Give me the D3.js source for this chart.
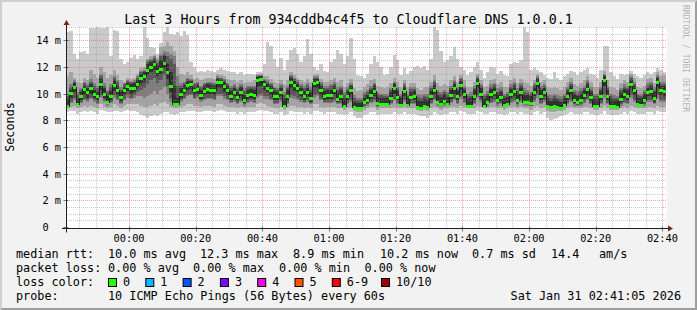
<!DOCTYPE html>
<html>
<head>
<meta charset="utf-8">
<script src="https://cdn.jsdelivr.net/npm/d3@7"></script>
<style>
body { margin: 0; background: #f2f2f2; }
svg { display: block; font-family: "DejaVu Sans Mono", monospace; }
text { white-space: pre; }
</style>
</head>
<body>
<div id="chart"></div>
<script>
// one value per minute, 180 samples (23:41 -> 02:41), values in ms
var median = [
  9.1, 10.05, 10.5, 9.25, 9.8, 10.35, 10.1, 10.4, 10.0, 9.8,
  10.75, 10.0, 9.4, 9.8, 10.65, 10.3, 9.75, 10.25, 10.55, 10.4,
  10.45, 10.75, 11.15, 11.3, 11.8, 12.0, 12.2, 11.7, 11.85, 12.3,
  11.6, 10.6, 9.25, 9.2, 10.0, 10.3, 10.65, 10.7, 10.25, 10.35,
  9.9, 10.2, 10.35, 10.3, 10.25, 10.85, 10.85, 10.55, 10.25, 9.85,
  10.1, 9.75, 10.15, 9.55, 9.9, 10.0, 9.9, 11.05, 11.1, 10.7,
  10.45, 10.25, 9.8, 9.8, 10.15, 9.05, 9.85, 10.85, 10.65, 10.45,
  10.15, 9.85, 10.1, 9.7, 10.8, 10.85, 10.25, 9.85, 9.9, 9.9,
  10.3, 9.6, 9.85, 9.1, 9.8, 10.25, 9.0, 8.9, 8.9, 9.35,
  9.5, 9.9, 10.2, 9.3, 9.25, 9.2, 9.2, 9.65, 10.4, 9.75,
  9.15, 10.2, 9.15, 9.75, 9.8, 9.0, 8.95, 9.1, 9.0, 9.8,
  10.3, 9.4, 9.25, 9.45, 9.25, 9.9, 10.4, 9.8, 10.65, 9.95,
  9.1, 9.1, 9.85, 10.8, 10.0, 9.1, 9.35, 9.95, 10.15, 9.5,
  9.75, 9.15, 9.2, 9.95, 10.2, 9.55, 10.1, 9.35, 9.35, 9.3,
  10.1, 10.8, 9.85, 10.1, 9.1, 9.0, 9.1, 9.0, 8.95, 9.15,
  9.8, 10.25, 9.5, 9.35, 9.55, 9.9, 10.35, 9.75, 9.1, 9.1,
  9.8, 11.0, 9.85, 9.1, 9.1, 9.0, 9.6, 9.95, 9.85, 10.75,
  10.25, 9.2, 9.15, 9.5, 10.1, 10.2, 9.7, 10.85, 10.25, 10.2
];

// the 10 sorted pings of every sample, lowest (ping1) to highest (ping10)
var ping1 = [
  8.6, 8.7, 8.7, 8.5, 8.6, 8.7, 8.6, 8.7, 8.6, 8.5,
  8.8, 8.7, 8.6, 8.6, 8.7, 8.7, 8.6, 8.7, 8.8, 8.7,
  8.7, 8.6, 8.4, 8.3, 8.2, 8.3, 8.4, 8.3, 8.5, 8.6,
  8.6, 8.5, 8.4, 8.5, 8.6, 8.6, 8.7, 8.7, 8.7, 8.6,
  8.6, 8.7, 8.7, 8.7, 8.6, 8.7, 8.8, 8.7, 8.6, 8.6,
  8.6, 8.5, 8.6, 8.5, 8.6, 8.6, 8.6, 8.7, 8.8, 8.7,
  8.7, 8.6, 8.5, 8.5, 8.6, 8.4, 8.5, 8.7, 8.6, 8.6,
  8.6, 8.5, 8.6, 8.5, 8.7, 8.7, 8.6, 8.5, 8.6, 8.6,
  8.6, 8.5, 8.5, 8.4, 8.5, 8.6, 8.3, 8.2, 8.2, 8.4,
  8.5, 8.6, 8.6, 8.4, 8.5, 8.5, 8.5, 8.5, 8.6, 8.5,
  8.5, 8.6, 8.5, 8.5, 8.5, 8.4, 8.3, 8.3, 8.2, 8.4,
  8.6, 8.5, 8.4, 8.5, 8.5, 8.6, 8.6, 8.5, 8.7, 8.6,
  8.5, 8.5, 8.5, 8.7, 8.6, 8.5, 8.5, 8.6, 8.6, 8.5,
  8.5, 8.4, 8.5, 8.6, 8.6, 8.5, 8.6, 8.5, 8.5, 8.4,
  8.6, 8.7, 8.5, 8.6, 8.2, 8.0, 8.1, 8.2, 8.3, 8.4,
  8.5, 8.6, 8.5, 8.5, 8.5, 8.6, 8.6, 8.5, 8.4, 8.4,
  8.5, 8.7, 8.5, 8.4, 8.4, 8.4, 8.5, 8.6, 8.5, 8.7,
  8.6, 8.5, 8.5, 8.5, 8.6, 8.6, 8.5, 8.7, 8.6, 8.6
];
var ping2 = [
  8.9, 9.0, 9.1, 8.9, 9.0, 9.1, 9.0, 9.1, 9.0, 8.9,
  9.2, 9.0, 8.9, 9.0, 9.2, 9.1, 8.9, 9.1, 9.2, 9.2,
  9.2, 9.2, 9.1, 9.0, 9.0, 9.1, 9.2, 9.1, 9.3, 9.4,
  9.2, 9.0, 8.9, 8.9, 9.0, 9.1, 9.2, 9.2, 9.1, 9.1,
  9.0, 9.1, 9.1, 9.1, 9.0, 9.2, 9.2, 9.1, 9.0, 9.0,
  9.0, 8.9, 9.0, 8.9, 9.0, 9.0, 9.0, 9.2, 9.3, 9.2,
  9.1, 9.0, 8.9, 8.9, 9.0, 8.8, 8.9, 9.1, 9.1, 9.0,
  9.0, 8.9, 9.0, 8.9, 9.2, 9.2, 9.0, 8.9, 9.0, 9.0,
  9.0, 8.9, 8.9, 8.8, 8.9, 9.0, 8.7, 8.6, 8.6, 8.8,
  8.9, 9.0, 9.0, 8.8, 8.9, 8.9, 8.9, 8.9, 9.0, 8.9,
  8.9, 9.0, 8.9, 8.9, 8.9, 8.8, 8.7, 8.8, 8.7, 8.9,
  9.0, 8.9, 8.8, 8.9, 8.9, 9.0, 9.0, 8.9, 9.1, 9.0,
  8.9, 8.9, 8.9, 9.1, 9.0, 8.9, 8.9, 9.0, 9.0, 8.9,
  8.9, 8.8, 8.9, 9.0, 9.0, 8.9, 9.0, 8.9, 8.9, 8.8,
  9.0, 9.1, 8.9, 9.0, 8.7, 8.6, 8.6, 8.7, 8.7, 8.8,
  8.9, 9.0, 8.9, 8.9, 8.9, 9.0, 9.0, 8.9, 8.8, 8.8,
  8.9, 9.1, 8.9, 8.8, 8.8, 8.8, 8.9, 9.0, 8.9, 9.1,
  9.0, 8.9, 8.9, 8.9, 9.0, 9.0, 8.9, 9.1, 9.0, 9.0
];
var ping3 = [
  9.0, 9.3, 9.5, 9.1, 9.3, 9.5, 9.4, 9.6, 9.4, 9.2,
  9.7, 9.4, 9.1, 9.3, 9.7, 9.5, 9.2, 9.5, 9.7, 9.6,
  9.7, 9.8, 9.8, 9.7, 9.8, 10.0, 10.2, 10.0, 10.3, 10.5,
  10.0, 9.4, 9.1, 9.05, 9.4, 9.6, 9.8, 9.9, 9.6, 9.7,
  9.4, 9.5, 9.6, 9.6, 9.5, 9.8, 9.8, 9.6, 9.5, 9.3,
  9.4, 9.2, 9.4, 9.1, 9.3, 9.4, 9.3, 9.7, 9.8, 9.6,
  9.6, 9.5, 9.2, 9.2, 9.4, 8.95, 9.2, 9.7, 9.6, 9.5,
  9.4, 9.3, 9.4, 9.2, 9.7, 9.8, 9.5, 9.3, 9.3, 9.3,
  9.4, 9.2, 9.2, 8.95, 9.2, 9.4, 8.85, 8.75, 8.75, 9.0,
  9.1, 9.3, 9.4, 9.0, 9.05, 9.05, 9.05, 9.2, 9.5, 9.2,
  9.05, 9.4, 9.05, 9.2, 9.2, 8.9, 8.85, 8.95, 8.85, 9.2,
  9.5, 9.1, 9.0, 9.1, 9.05, 9.3, 9.5, 9.2, 9.6, 9.3,
  9.0, 9.0, 9.2, 9.7, 9.4, 9.0, 9.1, 9.3, 9.4, 9.1,
  9.2, 9.0, 9.05, 9.3, 9.4, 9.1, 9.4, 9.1, 9.1, 9.05,
  9.4, 9.7, 9.2, 9.4, 8.95, 8.85, 8.9, 8.85, 8.8, 9.0,
  9.2, 9.4, 9.1, 9.1, 9.1, 9.3, 9.5, 9.2, 8.95, 8.95,
  9.2, 9.7, 9.2, 8.95, 8.95, 8.9, 9.1, 9.3, 9.2, 9.7,
  9.4, 9.05, 9.0, 9.1, 9.4, 9.4, 9.2, 9.7, 9.4, 9.4
];
var ping4 = [
  9.05, 9.4, 9.7, 9.12, 9.4, 9.6, 9.5, 9.7, 9.5, 9.3,
  9.9, 9.5, 9.2, 9.4, 9.9, 9.6, 9.3, 9.6, 9.9, 9.7,
  9.9, 10.1, 10.3, 10.4, 10.7, 11.0, 11.2, 10.8, 11.0, 11.4,
  10.6, 9.7, 9.15, 9.1, 9.5, 9.7, 9.9, 10.0, 9.7, 9.8,
  9.5, 9.6, 9.7, 9.7, 9.6, 10.0, 10.0, 9.8, 9.6, 9.4,
  9.5, 9.3, 9.5, 9.2, 9.4, 9.5, 9.4, 9.9, 10.0, 9.8,
  9.8, 9.6, 9.3, 9.3, 9.5, 9.0, 9.3, 9.9, 9.8, 9.7,
  9.5, 9.4, 9.5, 9.3, 9.9, 10.0, 9.6, 9.4, 9.4, 9.4,
  9.5, 9.3, 9.3, 9.0, 9.3, 9.5, 8.9, 8.8, 8.8, 9.1,
  9.2, 9.4, 9.5, 9.1, 9.1, 9.1, 9.1, 9.3, 9.6, 9.3,
  9.08, 9.5, 9.08, 9.3, 9.3, 8.93, 8.88, 9.0, 8.9, 9.3,
  9.6, 9.2, 9.1, 9.2, 9.1, 9.4, 9.6, 9.3, 9.8, 9.4,
  9.03, 9.03, 9.3, 9.9, 9.5, 9.03, 9.2, 9.4, 9.5, 9.2,
  9.3, 9.05, 9.1, 9.4, 9.5, 9.2, 9.5, 9.2, 9.2, 9.1,
  9.5, 9.9, 9.3, 9.5, 9.0, 8.9, 8.95, 8.9, 8.85, 9.05,
  9.3, 9.5, 9.2, 9.15, 9.2, 9.4, 9.6, 9.3, 9.0, 9.0,
  9.3, 10.0, 9.3, 9.0, 9.0, 8.95, 9.2, 9.4, 9.3, 9.9,
  9.5, 9.1, 9.05, 9.2, 9.5, 9.5, 9.3, 9.9, 9.5, 9.5
];
var ping5 = [
  9.08, 9.7, 10.1, 9.2, 9.5, 9.9, 9.7, 10.0, 9.7, 9.5,
  10.3, 9.7, 9.3, 9.5, 10.2, 9.9, 9.45, 9.9, 10.2, 10.0,
  10.1, 10.4, 10.8, 10.9, 11.4, 11.6, 11.8, 11.3, 11.5, 11.9,
  11.1, 10.1, 9.2, 9.15, 9.7, 9.95, 10.3, 10.35, 9.9, 10.0,
  9.6, 9.9, 10.0, 9.95, 9.9, 10.4, 10.4, 10.1, 9.9, 9.55,
  9.8, 9.45, 9.85, 9.3, 9.6, 9.7, 9.6, 10.5, 10.6, 10.3,
  10.1, 9.9, 9.5, 9.5, 9.8, 9.02, 9.5, 10.4, 10.2, 10.1,
  9.8, 9.55, 9.8, 9.4, 10.4, 10.45, 9.9, 9.55, 9.6, 9.6,
  9.9, 9.4, 9.55, 9.05, 9.5, 9.9, 8.95, 8.85, 8.85, 9.2,
  9.3, 9.6, 9.8, 9.2, 9.15, 9.12, 9.12, 9.45, 10.0, 9.5,
  9.1, 9.8, 9.1, 9.5, 9.5, 8.96, 8.92, 9.05, 8.95, 9.5,
  9.95, 9.3, 9.15, 9.3, 9.15, 9.6, 10.0, 9.5, 10.3, 9.65,
  9.06, 9.06, 9.55, 10.4, 9.7, 9.06, 9.25, 9.65, 9.8, 9.35,
  9.45, 9.1, 9.15, 9.65, 9.85, 9.35, 9.8, 9.25, 9.25, 9.2,
  9.8, 10.4, 9.55, 9.8, 9.05, 8.95, 9.02, 8.95, 8.9, 9.1,
  9.5, 9.9, 9.3, 9.25, 9.35, 9.6, 10.0, 9.45, 9.05, 9.05,
  9.5, 10.6, 9.55, 9.05, 9.05, 8.98, 9.35, 9.65, 9.55, 10.4,
  9.9, 9.15, 9.1, 9.3, 9.8, 9.85, 9.4, 10.4, 9.9, 9.85
];
var ping6 = [
  9.6, 10.3, 10.8, 9.6, 10.1, 10.6, 10.4, 10.7, 10.3, 10.1,
  11.1, 10.4, 9.8, 10.2, 11.0, 10.6, 10.1, 10.5, 10.8, 10.7,
  10.8, 11.05, 11.5, 11.6, 12.2, 12.35, 12.55, 12.1, 12.5, 12.8,
  12.2, 11.6, 10.6, 9.7, 10.4, 10.65, 10.95, 10.95, 10.5, 10.65,
  10.3, 10.55, 10.7, 10.65, 10.6, 11.1, 11.05, 10.9, 10.55, 10.2,
  10.45, 10.15, 10.5, 9.9, 10.3, 10.35, 10.3, 11.25, 11.3, 10.95,
  10.75, 10.55, 10.2, 10.15, 10.45, 9.6, 10.25, 11.15, 10.95, 10.75,
  10.45, 10.2, 10.45, 10.05, 11.1, 11.1, 10.6, 10.2, 10.25, 10.3,
  10.6, 10.05, 10.3, 9.6, 10.2, 10.55, 9.4, 9.3, 9.3, 9.7,
  9.9, 10.3, 10.55, 9.75, 9.7, 9.65, 9.65, 10.1, 10.7, 10.2,
  9.65, 10.5, 9.65, 10.15, 10.2, 9.5, 9.45, 9.6, 9.5, 10.2,
  10.65, 9.9, 9.75, 9.95, 9.75, 10.3, 10.75, 10.2, 10.95, 10.3,
  9.6, 9.65, 10.25, 11.1, 10.4, 9.6, 9.85, 10.35, 10.5, 9.95,
  10.15, 9.7, 9.75, 10.35, 10.6, 10.0, 10.5, 9.9, 9.9, 9.8,
  10.5, 11.1, 10.25, 10.45, 9.6, 9.45, 9.6, 9.5, 9.4, 9.65,
  10.2, 10.6, 9.95, 9.8, 10.0, 10.3, 10.75, 10.15, 9.6, 9.6,
  10.2, 11.3, 10.25, 9.6, 9.55, 9.5, 10.05, 10.35, 10.25, 11.05,
  10.6, 9.7, 9.65, 10.0, 10.45, 10.55, 10.1, 11.15, 10.6, 10.55
];
var ping7 = [
  9.8, 10.5, 10.9, 9.9, 10.3, 10.8, 10.6, 10.9, 10.6, 10.4,
  11.3, 10.6, 10.1, 10.5, 11.2, 10.9, 10.3, 10.7, 10.95, 10.85,
  10.9, 11.2, 11.6, 11.7, 12.4, 12.5, 12.7, 12.3, 12.8, 13.0,
  12.8, 12.6, 12.2, 10.6, 10.6, 10.8, 11.1, 11.05, 10.7, 10.8,
  10.5, 10.7, 10.8, 10.8, 10.7, 11.2, 11.15, 11.0, 10.7, 10.45,
  10.6, 10.35, 10.6, 10.2, 10.5, 10.5, 10.5, 11.35, 11.35, 11.05,
  10.9, 10.7, 10.4, 10.3, 10.6, 9.9, 10.45, 11.3, 11.1, 10.9,
  10.6, 10.45, 10.65, 10.3, 11.2, 11.2, 10.75, 10.45, 10.45, 10.55,
  10.75, 10.3, 10.45, 9.9, 10.35, 10.65, 9.7, 9.5, 9.5, 9.95,
  10.1, 10.45, 10.7, 9.95, 9.9, 9.85, 9.85, 10.3, 10.8, 10.35,
  9.85, 10.65, 9.85, 10.35, 10.35, 9.75, 9.65, 9.8, 9.75, 10.4,
  10.85, 10.1, 9.95, 10.1, 9.95, 10.45, 10.9, 10.35, 11.1, 10.45,
  9.8, 9.85, 10.4, 11.2, 10.55, 9.8, 10.0, 10.5, 10.65, 10.15,
  10.3, 9.85, 9.95, 10.5, 10.75, 10.2, 10.65, 10.1, 10.05, 9.95,
  10.65, 11.2, 10.4, 10.55, 9.8, 9.7, 9.8, 9.7, 9.6, 9.85,
  10.35, 10.75, 10.15, 10.0, 10.2, 10.45, 10.9, 10.3, 9.8, 9.8,
  10.35, 11.4, 10.4, 9.8, 9.7, 9.65, 10.25, 10.5, 10.4, 11.15,
  10.75, 9.9, 9.85, 10.15, 10.6, 10.7, 10.3, 11.25, 10.75, 10.7
];
var ping8 = [
  10.0, 10.7, 11.0, 10.1, 10.4, 10.9, 10.7, 11.1, 10.8, 10.6,
  11.5, 10.8, 10.3, 10.7, 11.3, 11.0, 10.5, 10.8, 11.0, 10.9,
  11.0, 11.3, 11.7, 11.8, 12.5, 12.6, 12.8, 12.5, 13.0, 13.2,
  13.1, 13.0, 12.8, 11.3, 10.8, 10.9, 11.2, 11.1, 10.8, 10.9,
  10.6, 10.8, 10.9, 10.9, 10.8, 11.3, 11.2, 11.1, 10.8, 10.6,
  10.7, 10.5, 10.7, 10.4, 10.6, 10.6, 10.6, 11.4, 11.4, 11.1,
  11.0, 10.8, 10.5, 10.4, 10.7, 10.1, 10.6, 11.4, 11.2, 11.0,
  10.7, 10.6, 10.8, 10.5, 11.3, 11.3, 10.9, 10.6, 10.6, 10.7,
  10.9, 10.5, 10.6, 10.1, 10.5, 10.8, 9.9, 9.7, 9.7, 10.1,
  10.3, 10.6, 10.8, 10.1, 10.0, 10.0, 10.0, 10.4, 10.9, 10.5,
  10.0, 10.8, 10.0, 10.5, 10.5, 10.0, 9.9, 10.0, 10.0, 10.6,
  11.0, 10.3, 10.1, 10.3, 10.1, 10.6, 11.0, 10.5, 11.2, 10.6,
  10.0, 10.1, 10.6, 11.3, 10.7, 10.0, 10.2, 10.7, 10.8, 10.4,
  10.5, 10.0, 10.1, 10.7, 10.9, 10.4, 10.8, 10.4, 10.3, 10.1,
  10.8, 11.3, 10.6, 10.7, 10.0, 9.9, 10.0, 9.9, 9.8, 10.0,
  10.5, 10.9, 10.3, 10.2, 10.4, 10.6, 11.0, 10.5, 10.0, 10.0,
  10.5, 11.5, 10.6, 10.0, 9.9, 9.8, 10.4, 10.7, 10.6, 11.3,
  10.9, 10.0, 10.0, 10.3, 10.8, 10.9, 10.5, 11.4, 10.9, 10.9
];
var ping9 = [
  11.3, 11.6, 11.2, 10.9, 10.8, 11.2, 11.0, 11.8, 11.5, 11.2,
  12.0, 11.6, 11.2, 11.4, 11.8, 11.4, 11.0, 10.9, 11.2, 11.1,
  11.2, 11.5, 11.9, 12.0, 12.6, 12.8, 12.9, 12.7, 13.5, 13.6,
  13.9, 13.6, 13.2, 12.0, 11.5, 11.4, 11.6, 11.4, 11.1, 11.2,
  11.0, 11.1, 11.2, 11.2, 11.1, 11.5, 11.4, 11.3, 11.1, 11.0,
  11.0, 10.9, 11.0, 10.8, 10.9, 10.9, 11.0, 11.5, 11.5, 11.3,
  11.3, 11.1, 10.9, 10.8, 11.0, 10.7, 11.0, 11.6, 11.4, 11.2,
  11.0, 10.9, 11.1, 10.9, 11.4, 11.5, 11.1, 10.9, 10.9, 11.0,
  11.2, 10.9, 11.0, 10.5, 10.8, 11.1, 10.4, 10.2, 10.3, 10.5,
  10.7, 11.0, 11.1, 10.6, 10.5, 10.4, 10.5, 10.8, 11.2, 10.9,
  10.5, 11.0, 10.5, 10.8, 10.8, 10.4, 10.3, 10.5, 10.5, 10.9,
  11.4, 10.8, 10.6, 10.7, 10.6, 11.0, 11.3, 10.9, 11.4, 11.0,
  10.5, 10.5, 10.9, 11.5, 11.0, 10.5, 10.6, 11.0, 11.1, 10.7,
  10.9, 10.5, 10.5, 11.0, 11.2, 10.8, 11.1, 10.9, 10.8, 10.6,
  11.0, 11.5, 10.9, 11.0, 10.5, 10.4, 10.5, 10.4, 10.3, 10.5,
  10.9, 11.2, 10.7, 10.6, 10.8, 11.0, 11.3, 10.9, 10.5, 10.5,
  10.9, 11.7, 11.0, 10.5, 10.4, 10.3, 10.8, 11.0, 10.9, 11.5,
  11.2, 10.5, 10.4, 10.6, 11.1, 11.2, 10.8, 11.6, 11.3, 11.4
];
var ping10 = [
  14.6, 14.7, 13.0, 12.6, 13.1, 13.2, 13.0, 14.9, 14.9, 15.0,
  14.9, 14.9, 15.0, 12.8, 14.8, 14.7, 12.6, 12.2, 12.4, 12.7,
  12.9, 12.6, 12.8, 15.0, 14.2, 13.5, 13.4, 13.0, 13.8, 14.6,
  15.0, 14.5, 14.4, 14.6, 14.3, 14.7, 14.4, 12.4, 12.0, 11.6,
  11.7, 11.6, 11.8, 11.7, 11.6, 11.8, 11.9, 11.8, 11.7, 11.6,
  11.6, 11.5, 11.6, 11.4, 11.5, 11.5, 11.4, 11.6, 11.6, 12.2,
  13.9, 13.6, 12.6, 12.0, 12.7, 11.8, 12.5, 13.3, 13.4, 13.0,
  12.4, 12.8, 14.1, 13.0, 12.0, 11.8, 12.2, 11.7, 11.6, 12.4,
  12.6, 13.3, 13.0, 12.2, 12.8, 14.2, 12.6, 11.4, 11.3, 11.2,
  11.5, 12.2, 12.8, 12.4, 12.0, 11.4, 11.5, 12.0, 12.9, 12.5,
  11.4, 11.9, 11.5, 11.7, 12.0, 12.1, 11.9, 12.1, 11.8, 12.6,
  15.0, 14.8, 13.2, 12.4, 12.5, 12.8, 13.5, 12.6, 12.0, 11.8,
  11.4, 11.6, 12.0, 12.4, 11.8, 11.2, 11.6, 12.0, 11.9, 11.5,
  11.7, 11.4, 11.3, 12.2, 12.4, 12.3, 12.5, 15.0, 14.6, 11.8,
  11.9, 11.8, 11.6, 11.4, 11.2, 11.1, 11.6, 11.2, 11.0, 11.3,
  11.5, 11.7, 11.6, 11.4, 11.6, 11.8, 11.9, 11.5, 11.4, 11.2,
  11.8, 13.6, 13.6, 11.6, 11.3, 11.1, 11.5, 11.4, 11.5, 11.7,
  11.5, 11.3, 11.2, 11.4, 11.6, 11.5, 11.6, 11.9, 11.8, 11.6
];

var yMax = 15;
var xTickLabels = ["00:00", "00:20", "00:40", "01:00", "01:20", "01:40", "02:00", "02:20", "02:40"];
var smokeColors = ["#cacaca", "#a4a4a4", "#7e7e7e", "#585858", "#323232"];
var lossNames = ["0", "1", "2", "3", "4", "5", "6-9", "10/10"];
var lossColors = ["#26ff00", "#00b8ff", "#0059ff", "#7e00ff", "#ff00ea", "#ff5500", "#ff0000", "#a10000"];

var W = 697, H = 310;
var plotLeft = 66, plotTop = 27, plotW = 600, plotH = 200;
var start = new Date(Date.UTC(2026, 0, 30, 23, 41, 5));
var end = new Date(Date.UTC(2026, 0, 31, 2, 41, 5));

var x = d3.scaleUtc().domain([start, end]).range([plotLeft, plotLeft + plotW]);
var y = d3.scaleLinear().domain([0, yMax]).range([plotTop + plotH, plotTop]);

var svg = d3.select("#chart").append("svg")
	.attr("width", W)
	.attr("height", H);

// background + 3d border like rrdtool
svg.append("rect").attr("width", W).attr("height", H).attr("fill", "#f2f2f2");
svg.append("path")
	.attr("d", "M0," + H + "L2," + (H - 2) + "L2,2L" + (W - 2) + ",2L" + W + ",0L0,0Z")
	.attr("fill", "#cfcfcf");
svg.append("path")
	.attr("d", "M2," + (H - 2) + "L" + (W - 2) + "," + (H - 2) + "L" + (W - 2) + ",2L" + W + ",0L" + W + "," + H + "L0," + H + "Z")
	.attr("fill", "#9e9e9e");

// canvas
svg.append("rect")
	.attr("x", plotLeft).attr("y", plotTop)
	.attr("width", plotW + 1).attr("height", plotH + 1)
	.attr("fill", "#ffffff");

// one row per minute, plus a closing point so the last step is drawn
var rows = median.map(function(m, i) {
	return { t: new Date(start.getTime() + i * 60000), i: i };
});
rows.push({ t: end, i: median.length - 1 });

var pings = [ping1, ping2, ping3, ping4, ping5, ping6, ping7, ping8, ping9, ping10];

// smoke: band b goes from ping(b+1) to ping(10-b)
smokeColors.forEach(function(col, b) {
	var lo = pings[b], hi = pings[9 - b];
	var area = d3.area()
		.curve(d3.curveStepAfter)
		.x(function(d) { return x(d.t); })
		.y0(function(d) { return y(lo[d.i]); })
		.y1(function(d) { return y(hi[d.i]); });
	svg.append("path")
		.datum(rows)
		.attr("d", area)
		.attr("fill", col)
		.attr("shape-rendering", "crispEdges");
});

// grid
var grid = svg.append("g").attr("shape-rendering", "crispEdges");
var majorX = x.ticks(d3.utcMinute.every(20));
var minorX = x.ticks(d3.utcMinute.every(5)).filter(function(t) { return t.getUTCMinutes() % 20 != 0; });
var majorY = y.ticks(8);
var minorY = y.ticks(30).filter(function(v) { return v % 2 != 0; });

function vline(t, col) {
	var px = Math.round(x(t)) + 0.5;
	grid.append("line")
		.attr("x1", px).attr("x2", px)
		.attr("y1", plotTop).attr("y2", plotTop + plotH + 1)
		.attr("stroke", col).attr("stroke-dasharray", "1,1");
}
function hline(v, col) {
	var py = Math.round(y(v)) + 0.5;
	grid.append("line")
		.attr("x1", plotLeft + 1).attr("x2", plotLeft + plotW + 1)
		.attr("y1", py).attr("y2", py)
		.attr("stroke", col).attr("stroke-dasharray", "1,1");
}
minorX.forEach(function(t) { vline(t, "rgba(143,143,143,0.45)"); });
minorY.forEach(function(v) { hline(v, "rgba(143,143,143,0.45)"); });
majorX.forEach(function(t) { vline(t, "rgba(222,79,79,0.5)"); });
majorY.filter(function(v) { return v > 0; }).forEach(function(v) { hline(v, "rgba(222,79,79,0.5)"); });

// median: thin dark step line, green (no loss) bar on every step
var medLine = d3.line()
	.curve(d3.curveStepAfter)
	.x(function(d) { return x(d.t); })
	.y(function(d) { return Math.round(y(median[d.i])) + 0.5; });
svg.append("path")
	.datum(rows)
	.attr("d", medLine)
	.attr("fill", "none")
	.attr("stroke", "#202020")
	.attr("stroke-width", 1)
	.attr("shape-rendering", "crispEdges");

svg.append("g").selectAll("rect")
	.data(rows.slice(0, -1))
	.enter().append("rect")
	.attr("x", function(d) { return x(d.t); })
	.attr("width", function(d) { return x(rows[d.i + 1].t) - x(d.t); })
	.attr("y", function(d) { return Math.round(y(median[d.i])) - 1; })
	.attr("height", 3)
	.attr("fill", lossColors[0])
	.attr("shape-rendering", "crispEdges");

// axes
var axisCol = "#1f1f1f", arrowCol = "#801f1f";
var x0 = plotLeft + 0.5, y0 = plotTop + plotH + 1.5;
svg.append("line")
	.attr("x1", plotLeft - 4).attr("x2", plotLeft + plotW + 4)
	.attr("y1", y0).attr("y2", y0)
	.attr("stroke", axisCol);
svg.append("line")
	.attr("x1", x0).attr("x2", x0)
	.attr("y1", y0 + 4).attr("y2", plotTop - 4)
	.attr("stroke", axisCol);
svg.append("path")
	.attr("d", "M" + (plotLeft + plotW + 2) + "," + (y0 - 3) + "L" + (plotLeft + plotW + 2) + "," + (y0 + 3) + "L" + (plotLeft + plotW + 7) + "," + y0 + "Z")
	.attr("fill", arrowCol);
svg.append("path")
	.attr("d", "M" + (x0 - 3) + "," + (plotTop - 2) + "L" + (x0 + 3) + "," + (plotTop - 2) + "L" + x0 + "," + (plotTop - 7) + "Z")
	.attr("fill", arrowCol);

// small ticks on the axes
majorX.forEach(function(t) {
	var px = Math.round(x(t)) + 0.5;
	svg.append("line").attr("x1", px).attr("x2", px)
		.attr("y1", y0 - 2).attr("y2", y0 + 3)
		.attr("stroke", axisCol).attr("stroke-opacity", 0.6);
});
majorY.forEach(function(v) {
	var py = Math.round(y(v)) + 0.5;
	svg.append("line").attr("x1", x0 - 3).attr("x2", x0 + 2)
		.attr("y1", py).attr("y2", py)
		.attr("stroke", axisCol).attr("stroke-opacity", 0.6);
});

// axis labels
var tickFmt = d3.utcFormat("%H:%M");
svg.append("g").selectAll("text")
	.data(majorX)
	.enter().append("text")
	.attr("x", function(d) { return x(d); })
	.attr("y", 242)
	.attr("text-anchor", "middle")
	.attr("font-size", "10.3px")
	.attr("fill", "#000")
	.text(function(d, i) { return xTickLabels[i] || tickFmt(d); });

svg.append("g").selectAll("text")
	.data(majorY)
	.enter().append("text")
	.attr("x", 61)
	.attr("y", function(d) { return Math.round(y(d)) + 4; })
	.attr("text-anchor", "end")
	.attr("font-size", "10.3px")
	.attr("fill", "#000")
	.text(function(d) { return d == 0 ? "0  " : d + " m"; });

// title, unit, watermark
svg.append("text")
	.attr("x", W / 2).attr("y", 24)
	.attr("text-anchor", "middle")
	.attr("font-size", "13.3px")
	.text("Last 3 Hours from 934cddb4c4f5 to Cloudflare DNS 1.0.0.1");

svg.append("text")
	.attr("transform", "translate(14," + (plotTop + plotH / 2) + ") rotate(-90)")
	.attr("text-anchor", "middle")
	.attr("font-size", "11.8px")
	.text("Seconds");

svg.append("text")
	.attr("transform", "translate(683,5) rotate(90)")
	.attr("font-size", "8.1px")
	.attr("fill", "#000")
	.attr("fill-opacity", 0.3)
	.text("RRDTOOL / TOBI OETIKER");

// legend
function leg(px, py, s, anchor) {
	svg.append("text")
		.attr("x", px).attr("y", py)
		.attr("font-size", "11.8px")
		.attr("text-anchor", anchor || "start")
		.text(s);
}
leg(16, 258, "median rtt:");
leg(108, 258, "10.0 ms avg");
leg(200, 258, "12.3 ms max");
leg(293, 258, "8.9 ms min");
leg(380, 258, "10.2 ms now");
leg(472, 258, "0.7 ms sd");
leg(551, 258, "14.4");
leg(599, 258, "am/s");

leg(16, 272, "packet loss:");
leg(108, 272, "0.00 % avg");
leg(193, 272, "0.00 % max");
leg(279, 272, "0.00 % min");
leg(364.5, 272, "0.00 % now");

leg(16, 286, "loss color:");
var boxX = [108, 145.3, 182.6, 219.9, 257.2, 294.5, 331.8, 381];
lossNames.forEach(function(n, i) {
	svg.append("rect")
		.attr("x", boxX[i] + 0.5).attr("y", 278.5)
		.attr("width", 8).attr("height", 8)
		.attr("fill", lossColors[i])
		.attr("stroke", "#000");
	leg(boxX[i] + 15, 286, n);
});

leg(16, 300, "probe:");
leg(108, 300, "10 ICMP Echo Pings (56 Bytes) every 60s");
leg(681, 300, "Sat Jan 31 02:41:05 2026", "end");
</script>
</body>
</html>
